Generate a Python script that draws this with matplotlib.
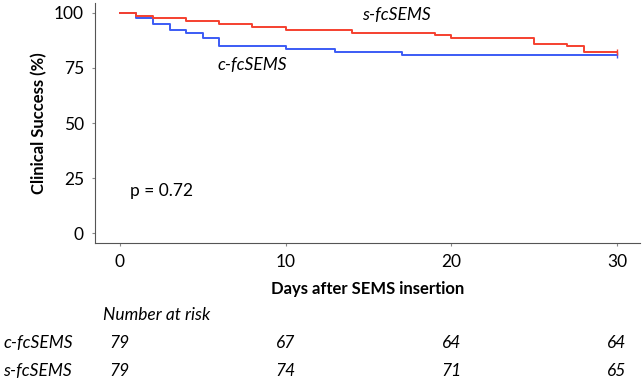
import matplotlib
matplotlib.use("Agg")
import matplotlib.pyplot as plt
from matplotlib.transforms import blended_transform_factory

plt.rcParams['font.family'] = ['Lato', 'DejaVu Sans']

# step curves (day, clinical success %)
c_days = [0, 1, 2, 3, 4, 5, 6, 10, 13, 17, 30]
c_surv = [100, 97.5, 94.9, 92.4, 91.1, 88.6, 84.8, 83.5, 82.3, 81.0, 81.0]
s_days = [0, 1, 2, 4, 6, 8, 10, 14, 19, 20, 25, 27, 28, 30]
s_surv = [100, 98.7, 97.5, 96.2, 94.9, 93.7, 92.4, 91.1, 89.9, 88.6, 86.1, 84.8, 82.3, 82.3]

risk_days = [0, 10, 20, 30]
risk_c = [79, 67, 64, 64]
risk_s = [79, 74, 71, 65]

red = '#f5402f'
blue = '#3b5bf5'
fs = 12.5

fig = plt.figure(figsize=(6.44, 3.82), dpi=100)
ax = fig.add_axes([0.1475, 0.364, 0.8465, 0.628])

ax.step(c_days, c_surv, where='post', color=blue, lw=1.4)
ax.step(s_days, s_surv, where='post', color=red, lw=1.4)
ax.plot([c_days[-1]], [c_surv[-1]], marker='|', color=blue, ms=4, mew=1)
ax.plot([s_days[-1]], [s_surv[-1]], marker='|', color=red, ms=4, mew=1)

ax.set_xlim(-1.5, 31.4)
ax.set_ylim(-4.5, 104.5)
ax.set_xticks([0, 10, 20, 30])
ax.set_yticks([0, 25, 50, 75, 100])
ax.tick_params(labelsize=fs, length=2, color='#888888', pad=6)
for side in ['top', 'right']:
    ax.spines[side].set_visible(False)
for side in ['left', 'bottom']:
    ax.spines[side].set_color('#555555')

ax.set_ylabel('Clinical Success (%)', fontsize=12, fontweight='bold', labelpad=5)
ax.set_xlabel('Days after SEMS insertion', fontsize=12, fontweight='bold', labelpad=8)

ax.text(16.7, 99, 's-fcSEMS', fontsize=fs, style='italic', ha='center', va='center')
ax.text(8.0, 76.5, 'c-fcSEMS', fontsize=fs, style='italic', ha='center', va='center')
ax.text(0.6, 19, 'p = 0.72', fontsize=fs, ha='left', va='center')

# number at risk table
tr = blended_transform_factory(ax.transData, fig.transFigure)
fig.text(0.16, 0.175, 'Number at risk', fontsize=fs, style='italic', ha='left', va='center')
fig.text(0.005, 0.102, 'c-fcSEMS', fontsize=fs, style='italic', ha='left', va='center')
fig.text(0.005, 0.029, 's-fcSEMS', fontsize=fs, style='italic', ha='left', va='center')
for d, nc, ns in zip(risk_days, risk_c, risk_s):
    ax.text(d, 0.102, str(nc), transform=tr, fontsize=fs, style='italic', ha='center', va='center')
    ax.text(d, 0.029, str(ns), transform=tr, fontsize=fs, style='italic', ha='center', va='center')

fig.savefig('out.png', dpi=100)
